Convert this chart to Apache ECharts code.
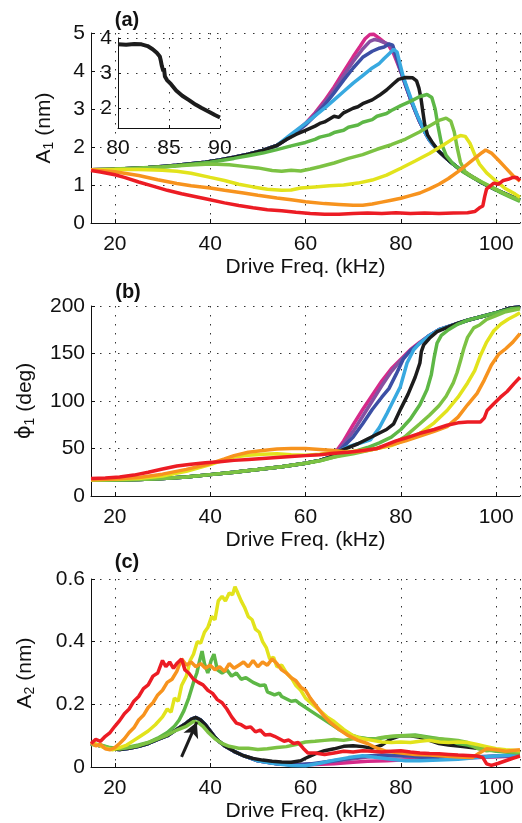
<!DOCTYPE html>
<html>
<head>
<meta charset="utf-8">
<script src="https://cdn.jsdelivr.net/npm/echarts@6/dist/echarts.min.js"></script>
<style>
html, body { margin: 0; padding: 0; background: #fff; }
#main { width: 522px; height: 823px; }
</style>
</head>
<body>
<div id="main"></div>
<script>
// ---------- panel (a): A1 (nm) vs drive frequency ----------
var a1Base = [[15,1.40],[18,1.41],[21,1.42],[24,1.44],[27,1.46],[30,1.49],[33,1.52],[36,1.56],[39,1.60],[42,1.66],[45,1.73],[48,1.81],[51,1.91],[54,2.04]];
var a1Tail = [[85,2.40],[86,2.18],[88,1.88],[90,1.65],[92,1.45],[94,1.29],[97,1.06],[100,0.87],[103,0.71],[105,0.61]];
var a1Magenta = a1Base.concat([[57,2.30],[60,2.62],[62,2.90],[64,3.22],[66,3.58],[68,3.98],[70,4.38],[71.5,4.66],[72.5,4.85],[73.5,4.96],[74.3,4.97],[75.3,4.88],[76.5,4.76],[77.5,4.66],[78.5,4.45],[79.3,4.20],[80,3.98],[81,3.62],[82,3.27],[83,2.95],[84,2.65]], a1Tail);
var a1Purple = a1Base.concat([[57,2.29],[60,2.60],[62,2.87],[64,3.17],[66,3.50],[68,3.88],[70,4.25],[72,4.58],[73.5,4.78],[74.5,4.83],[75.5,4.80],[76.5,4.75],[77.5,4.70],[78.3,4.60],[79,4.36],[80,3.99],[81,3.62],[82,3.27],[83,2.95],[84,2.65]], a1Tail);
var a1Blue = a1Base.concat([[57,2.28],[60,2.58],[62,2.83],[64,3.10],[66,3.42],[68,3.76],[70,4.08],[72,4.36],[74,4.52],[75.5,4.60],[76.5,4.63],[77.5,4.71],[78.3,4.68],[79,4.40],[80,4.00],[81,3.63],[82,3.27],[83,2.95],[84,2.65]], a1Tail);
var a1LightBlue = a1Base.concat([[57,2.34],[60,2.62],[62,2.82],[64,3.02],[66,3.24],[68,3.46],[70,3.68],[72,3.88],[74,4.08],[75.5,4.20],[76.5,4.33],[77.5,4.45],[78.5,4.57],[79.2,4.50],[79.8,4.20],[80.5,3.85],[81.5,3.50],[82.5,3.15],[83.5,2.82],[84.5,2.55]], a1Tail);
var a1Black = a1Base.concat([[56,2.20],[58,2.33],[60,2.44],[62,2.55],[63,2.62],[64,2.66],[66,2.81],[67,2.78],[68,2.90],[70,3.02],[71,3.06],[72,3.14],[74,3.24],[75.5,3.36],[77,3.50],[78.5,3.67],[79.5,3.78],[81,3.83],[82.5,3.82],[83.3,3.74],[83.8,3.55],[84.2,3.30],[84.6,2.95],[85,2.60],[85.6,2.32],[86.5,2.14],[88,1.88],[90,1.65],[92,1.45],[94,1.29],[97,1.06],[100,0.87],[103,0.71],[105,0.61]]);
var a1Green1 = [[15,1.40],[20,1.41],[25,1.43],[30,1.47],[35,1.53],[40,1.60],[45,1.70],[48,1.77],[51,1.84],[54,1.93],[57,2.03],[60,2.12],[62,2.20],[63,2.26],[65,2.32],[66,2.38],[68,2.44],[69,2.52],[71,2.58],[72,2.65],[74,2.72],[75,2.81],[77,2.88],[78,2.96],[80,3.09],[82,3.20],[84,3.33],[85.5,3.38],[86.5,3.30],[87.2,3.00],[87.8,2.55],[88.5,2.10],[89.5,1.78],[91,1.55],[93,1.35],[95,1.20],[98,1.00],[101,0.80],[103,0.68],[105,0.57]];
var a1Green2 = [[15,1.40],[20,1.42],[25,1.45],[30,1.48],[35,1.52],[40,1.55],[44,1.53],[47,1.49],[50,1.45],[53,1.38],[55,1.36],[57,1.39],[59,1.37],[61,1.42],[63,1.48],[66,1.58],[69,1.70],[72,1.80],[75,1.94],[78,2.06],[81,2.21],[84,2.40],[86,2.55],[88,2.70],[89.5,2.76],[90.5,2.68],[91.2,2.40],[91.8,2.00],[92.5,1.60],[93.5,1.35],[95,1.22],[97,1.08],[99,0.95],[101,0.82],[103,0.70],[105,0.60]];
var a1Yellow = [[15,1.40],[20,1.41],[25,1.41],[30,1.39],[33,1.36],[36,1.31],[40,1.20],[43,1.12],[46,1.02],[49,0.95],[52,0.89],[55,0.86],[57,0.87],[59,0.92],[62,0.95],[65,0.98],[68,1.00],[71,1.05],[74,1.13],[77,1.26],[80,1.44],[83,1.63],[86,1.83],[89,2.06],[91,2.22],[92.5,2.30],[93.5,2.28],[94.5,2.10],[95.5,1.80],[96.5,1.55],[98,1.32],[100,1.10],[102,0.90],[104,0.76],[105,0.68]];
var a1Orange = [[15,1.40],[20,1.35],[25,1.25],[29,1.14],[33,1.04],[36,0.98],[40,0.92],[43,0.86],[47,0.79],[50,0.73],[54,0.66],[57,0.61],[60,0.56],[64,0.51],[67,0.49],[70,0.47],[72,0.47],[74,0.50],[76,0.55],[78,0.60],[80,0.65],[82,0.72],[84,0.79],[86,0.90],[88,1.02],[90,1.17],[92,1.35],[94,1.55],[95.5,1.70],[97,1.85],[97.8,1.92],[99,1.84],[100.5,1.65],[102,1.45],[103.5,1.25],[105,1.10]];
var a1Red = [[15,1.38],[17,1.34],[20,1.27],[22,1.20],[25,1.08],[28,0.97],[31,0.86],[34,0.77],[37,0.69],[40,0.61],[43,0.53],[46,0.46],[49,0.40],[52,0.35],[55,0.32],[58,0.28],[61,0.25],[64,0.23],[67,0.23],[70,0.25],[73,0.26],[76,0.25],[79,0.27],[82,0.25],[85,0.26],[88,0.25],[91,0.26],[94,0.27],[95.5,0.30],[96.5,0.40],[97.2,0.45],[97.6,0.70],[98,0.90],[98.8,0.98],[99.5,1.05],[100.5,1.02],[101.5,1.12],[102.5,1.15],[103.5,1.20],[104.3,1.20],[105,1.12]];

// inset of panel (a)
var insetBlack = [[80,3.82],[80.8,3.81],[81.6,3.83],[82.3,3.82],[82.9,3.77],[83.4,3.68],[83.8,3.58],[84.1,3.47],[84.2,3.35],[84.3,3.20],[84.45,3.05],[84.5,3.14],[84.6,2.90],[84.8,2.80],[85.2,2.68],[85.7,2.50],[86.3,2.35],[87,2.22],[87.6,2.10],[88.2,2.00],[89,1.88],[89.5,1.80],[90,1.73]];

// ---------- panel (b): phase (deg) ----------
var b1Base = [[15,16.5],[20,16.8],[25,17.3],[30,18.3],[35,20.0],[40,22.5],[45,25.0],[50,27.8],[55,30.8],[60,34.5],[63,37.5],[65,40.5]];
var b1Tail = [[86,169],[88,175],[91,180],[94,185],[97,189],[100,193],[103,198],[105,199]];
var b1Magenta = b1Base.concat([[66,44],[68,58],[70,75],[72,91],[74,106],[76,121],[78,134],[80,144],[82,154],[84,162]], b1Tail);
var b1Purple = b1Base.concat([[66.5,46],[68,55],[70,68],[72,84],[74,100],[76,116],[78,131],[80,143],[82,153],[84,161]], b1Tail);
var b1Blue = b1Base.concat([[66.5,45],[68,52],[70,62],[72,76],[74,91],[76,104],[77.5,113],[79,128],[80.5,144],[82,153],[84,161]], b1Tail);
var b1LightBlue = b1Base.concat([[67,47],[69,52],[71,55],[73.6,59],[75.5,72],[77.1,87],[78.5,101],[79.9,115],[81.3,140],[82.7,154],[84,161]], b1Tail);
var b1Black = b1Base.concat([[67,47],[69,51],[71,55],[73,60],[75,65],[77,70],[78.5,76],[80,92],[81.5,107],[83,125],[84,140],[84.3,152],[84.8,159],[86,166],[87.6,173],[90,178],[92,182],[94,185],[97,189],[100,193],[103,198],[105,199]]);
var b1Green1 = [[15,16.5],[20,16.8],[25,17.3],[30,18.3],[35,20.0],[40,22.5],[45,25.0],[50,27.8],[55,30.8],[60,34.5],[63,37],[66,41],[70,46.5],[73,51],[75.5,56],[78,62],[80,70],[82,81],[84,96],[85.5,112],[86.4,128],[87,146],[87.6,161],[88.5,169],[90,175],[92,181],[94,185],[97,189],[100,193],[103,197],[105,198]];
var b1Green2 = [[15,16.5],[20,16.8],[25,17.3],[30,18.3],[35,20.0],[40,22.5],[45,25.0],[50,27.8],[55,30.8],[60,34.5],[63,37],[66,41],[70,44.5],[74,49],[78.5,55],[81,63],[84,76],[86,85],[88,95],[89.5,105],[91,119],[91.8,130],[92.5,142],[93.2,155],[94,167],[95.3,177],[96.5,180],[98,186],[100,190],[102,194],[105,197]];
var b1Yellow = [[15,17],[20,17.5],[25,18.5],[30,21],[35,26],[40,33],[43,38],[45,41],[48,43],[51,44],[54,44.5],[57,43.5],[60,43],[63,44],[66,46],[70,47],[74,49],[78,53],[81,59],[84,66],[87,77],[89.7,90],[92,104],[94,119],[95.5,132],[96.7,148],[98,162],[99.5,174],[101,181],[102.5,186],[104,190],[105,193]];
var b1Orange = [[15,17],[20,18],[25,19.5],[30,23],[35,28],[40,34],[43,39],[45,42.5],[48,46],[51,48],[54,49.5],[57,50],[60,50],[63,49],[66,48],[69,46],[72,47],[75,50],[78,54],[81,58],[84,63],[87,68],[89.7,73],[92,83],[94,96],[96,108],[97.5,122],[99,138],[100.5,149],[102,155],[103.5,162],[105,171]];
var b1Red = [[15,18.5],[18,19],[21,20],[24,22],[27,25],[30,28.5],[33,31.5],[36,33.5],[39,35],[42,36],[45,37.5],[48,38.5],[51,39.5],[54,40.5],[57,41.5],[60,42.5],[63,43.5],[66,45],[69,46],[72,48],[75,50],[77,54],[79,58],[81,61],[84,66],[87,70],[89.7,74.5],[92,77],[94,78],[96.7,78],[97.5,82],[98.1,90],[99.5,97],[100.9,104],[102.3,110],[103.7,118],[105,125]];

// ---------- panel (c): A2 (nm) ----------
var c1Base = [[15,0.074],[17,0.068],[19,0.058],[21,0.056],[23,0.060],[25,0.066],[27,0.075],[29,0.088],[31,0.100],[33,0.120],[35,0.140],[36,0.152],[37,0.158],[38,0.150],[39,0.135],[40,0.115],[41,0.095],[42,0.080],[43,0.068],[45,0.050],[47,0.036]];
var c1Magenta = c1Base.concat([[50,0.020],[54,0.010],[58,0.006],[62,0.008],[66,0.010],[70,0.015],[73,0.018],[77,0.020],[80,0.022],[84,0.024],[90,0.026],[96,0.030],[105,0.035]]);
var c1Purple = c1Base.concat([[50,0.020],[54,0.010],[58,0.006],[62,0.010],[66,0.018],[70,0.026],[73,0.032],[76,0.036],[80,0.035],[84,0.030],[90,0.030],[96,0.032],[105,0.036]]);
var c1Blue = c1Base.concat([[50,0.020],[54,0.010],[58,0.007],[61,0.010],[64,0.016],[67,0.022],[70,0.030],[73,0.035],[76,0.038],[79,0.037],[82,0.036],[85,0.030],[90,0.030],[96,0.033],[105,0.038]]);
var c1LightBlue = c1Base.concat([[50,0.020],[53,0.012],[57,0.005],[60,0.004],[63,0.012],[66,0.022],[69,0.030],[72,0.036],[75,0.030],[78,0.025],[81,0.020],[84,0.020],[88,0.022],[92,0.025],[96,0.030],[100,0.035],[105,0.040]]);
var c1Black = c1Base.concat([[49,0.027],[51,0.022],[53,0.018],[55,0.016],[57,0.015],[59,0.020],[60,0.028],[62,0.042],[64,0.052],[66,0.058],[68,0.066],[70,0.068],[72,0.065],[74,0.060],[76,0.070],[78,0.090],[80,0.100],[82,0.100],[84,0.095],[86,0.085],[88,0.075],[90,0.070],[93,0.065],[96,0.060],[99,0.055],[102,0.050],[105,0.048]]);
var c1Green1 = [[15,0.074],[17,0.070],[19,0.062],[21,0.058],[23,0.064],[25,0.070],[27,0.078],[29,0.092],[31,0.110],[32.5,0.130],[33.5,0.150],[34.5,0.180],[35.5,0.220],[36.5,0.270],[37.2,0.300],[37.8,0.340],[38.3,0.370],[38.8,0.330],[39.5,0.300],[40.2,0.340],[40.8,0.360],[41.5,0.310],[42.5,0.300],[43.5,0.310],[44.5,0.290],[45.5,0.300],[46.5,0.280],[47.5,0.285],[49,0.270],[50.5,0.260],[51.5,0.262],[52,0.240],[53.5,0.230],[54.5,0.236],[55,0.225],[57,0.210],[58,0.212],[59,0.200],[61,0.180],[63,0.160],[65,0.140],[67,0.120],[69,0.105],[71,0.095],[73,0.090],[75,0.090],[77,0.095],[80,0.100],[83,0.102],[86,0.095],[88,0.090],[90,0.085],[92,0.075],[94,0.070],[96,0.062],[98,0.055],[100,0.050],[102,0.048],[105,0.045]];
var c1Green2 = [[15,0.072],[17,0.070],[19,0.060],[21,0.058],[23,0.062],[25,0.068],[27,0.078],[29,0.090],[31,0.102],[33,0.118],[35,0.130],[36.5,0.145],[37.5,0.142],[38.5,0.130],[39.5,0.112],[41,0.090],[42.5,0.075],[44,0.066],[46,0.060],[48,0.060],[50,0.056],[52,0.058],[54,0.062],[56,0.065],[58,0.072],[60,0.080],[62,0.082],[64,0.085],[66,0.088],[68,0.085],[70,0.090],[72,0.092],[74,0.088],[76,0.094],[78,0.098],[80,0.100],[82,0.100],[84,0.098],[86,0.092],[88,0.090],[90,0.088],[92,0.085],[94,0.078],[96,0.060],[98,0.052],[100,0.055],[102,0.050],[104,0.048],[105,0.045]];
var c1Yellow = [[15,0.080],[16.5,0.070],[18,0.060],[19.5,0.055],[21,0.062],[22.5,0.070],[24,0.085],[25.5,0.100],[27,0.115],[28.5,0.135],[30,0.160],[31,0.185],[31.8,0.175],[32.5,0.220],[33.3,0.210],[34,0.260],[35,0.290],[35.8,0.340],[36.5,0.360],[37.3,0.400],[38,0.395],[38.8,0.430],[39.5,0.445],[40.3,0.480],[41,0.470],[41.7,0.530],[42.5,0.545],[43.2,0.530],[44,0.555],[44.7,0.550],[45.2,0.575],[45.8,0.555],[46.5,0.530],[47.2,0.510],[48,0.480],[48.8,0.470],[49.5,0.440],[50.3,0.430],[51,0.400],[51.8,0.380],[52.5,0.345],[53.3,0.350],[54,0.320],[55,0.325],[56,0.300],[57,0.285],[58,0.260],[59,0.245],[60,0.220],[61.5,0.200],[63,0.180],[64.5,0.160],[66,0.145],[68,0.120],[70,0.100],[72,0.090],[74,0.085],[76,0.080],[78,0.078],[80,0.080],[82,0.078],[84,0.082],[86,0.085],[88,0.080],[90,0.078],[92,0.080],[94,0.078],[96,0.072],[98,0.065],[100,0.058],[102,0.055],[105,0.052]];
var c1Orange = [[15,0.078],[16,0.068],[17,0.072],[18,0.058],[19,0.055],[20,0.062],[21,0.075],[22,0.090],[23,0.110],[24,0.125],[25,0.150],[26,0.165],[27,0.190],[28,0.205],[29,0.230],[30,0.245],[31,0.270],[32,0.280],[33,0.305],[34,0.345],[35,0.325],[36,0.335],[37,0.320],[38,0.330],[39,0.315],[40,0.325],[41,0.310],[42,0.320],[43,0.305],[44,0.330],[45,0.315],[46,0.325],[47,0.335],[48,0.320],[49,0.340],[50,0.320],[51,0.335],[52,0.325],[53,0.345],[54,0.330],[55,0.310],[56,0.300],[57,0.285],[58,0.275],[59,0.255],[60,0.245],[61,0.220],[62,0.200],[63,0.180],[64,0.160],[65,0.145],[67,0.120],[69,0.100],[71,0.085],[73,0.075],[75,0.060],[77,0.050],[80,0.045],[83,0.040],[86,0.038],[89,0.035],[92,0.032],[95,0.030],[96.5,0.045],[98,0.058],[100,0.055],[102,0.050],[105,0.055]];
var c1Red = [[15,0.075],[16,0.088],[17,0.082],[18,0.098],[19,0.110],[20,0.130],[21,0.148],[22,0.170],[23,0.185],[24,0.210],[25,0.225],[26,0.250],[27,0.262],[28,0.290],[29,0.300],[30,0.340],[30.7,0.320],[31.5,0.335],[32.3,0.315],[33,0.330],[34,0.345],[34.7,0.310],[35.5,0.300],[36.5,0.280],[37.5,0.270],[38.5,0.262],[39.5,0.245],[40.5,0.235],[41.5,0.215],[42.5,0.205],[43.5,0.185],[44.5,0.160],[45.5,0.140],[46.5,0.135],[47.5,0.125],[48.5,0.128],[49.5,0.112],[50.5,0.118],[51.5,0.102],[52.5,0.104],[53.5,0.098],[54.5,0.090],[55.5,0.082],[56.5,0.086],[57.5,0.075],[58.5,0.078],[59.5,0.060],[60.5,0.045],[62,0.045],[64,0.040],[66,0.045],[68,0.050],[70,0.048],[72,0.052],[74,0.050],[76,0.048],[78,0.050],[80,0.052],[82,0.048],[84,0.045],[86,0.043],[88,0.042],[90,0.040],[92,0.038],[94,0.037],[96,0.035],[97.2,0.030],[98,0.010],[99,0.005],[100.5,0.012],[102,0.020],[103.5,0.028],[105,0.035]];

// arrow in panel (c), from tail to head (data coords)
var arrowTail = [34.0, 0.032];
var arrowHead = [37.2, 0.143];

var FONT = 'Liberation Sans, Arial, Helvetica, sans-serif';
var C = {
    magenta: '#d62a8a', purple: '#8650a2', blue: '#3c4fa5', lightBlue: '#38a9e0',
    black: '#1c1c1c', green1: '#5db746', green2: '#7cc243', yellow: '#e2e31c',
    orange: '#f7931e', red: '#ec1c24'
};

var dotted = { color: '#333', width: 1, type: [1.5, 7.5] };

function freqAxis(gi) {
    return {
        type: 'value', gridIndex: gi, min: 15, max: 105, splitNumber: 5,
        name: 'Drive Freq. (kHz)', nameLocation: 'middle', nameGap: 34,
        nameTextStyle: { fontSize: 21, color: '#111', fontFamily: FONT },
        axisLine: { lineStyle: { color: '#111', width: 1 } },
        axisTick: { inside: true, length: 4, lineStyle: { color: '#111' } },
        axisLabel: { fontSize: 21, color: '#111', margin: 11, fontFamily: FONT, showMinLabel: false, showMaxLabel: false },
        splitLine: { show: true, lineStyle: dotted }
    };
}

function valAxis(gi, min, max, interval, name, gap) {
    return {
        type: 'value', gridIndex: gi, min: min, max: max, interval: interval,
        name: name, nameLocation: 'middle', nameGap: gap,
        nameTextStyle: {
            color: '#111', fontFamily: FONT,
            rich: {
                t: { fontSize: 21, lineHeight: 24, fontFamily: FONT, color: '#111' },
                s: { fontSize: 14, lineHeight: 12, verticalAlign: 'bottom', fontFamily: FONT, color: '#111' },
                p: { fontSize: 21, lineHeight: 24, fontFamily: 'DejaVu Sans, ' + FONT, color: '#111' }
            }
        },
        axisLine: { show: true, lineStyle: { color: '#111', width: 1 } },
        axisTick: { show: true, inside: true, length: 4, lineStyle: { color: '#111' } },
        axisLabel: { fontSize: 21, color: '#111', margin: 6, fontFamily: FONT },
        splitLine: { show: true, lineStyle: dotted }
    };
}

function line(name, data, color, gi) {
    return {
        name: name, type: 'line', data: data, xAxisIndex: gi, yAxisIndex: gi,
        showSymbol: false, symbol: 'none', silent: true, animation: false,
        lineStyle: { color: color, width: 3.5 }, itemStyle: { color: color }
    };
}

var panels = [
    [a1Magenta, a1Purple, a1Blue, a1LightBlue, a1Black, a1Green1, a1Green2, a1Yellow, a1Orange, a1Red],
    [b1Magenta, b1Purple, b1Blue, b1LightBlue, b1Black, b1Green1, b1Green2, b1Yellow, b1Orange, b1Red],
    [c1Magenta, c1Purple, c1Blue, c1LightBlue, c1Black, c1Green1, c1Green2, c1Yellow, c1Orange, c1Red]
];
var keys = ['magenta', 'purple', 'blue', 'lightBlue', 'black', 'green1', 'green2', 'yellow', 'orange', 'red'];

var series = [];
panels.forEach(function (list, gi) {
    list.forEach(function (d, k) {
        series.push(line(keys[k] + gi, d, C[keys[k]], gi));
    });
});

// arrow on panel (c)
series[24].markLine = {
    silent: true, animation: false, symbol: ['none', 'arrow'], symbolSize: [12, 15],
    label: { show: false },
    lineStyle: { color: '#1c1c1c', width: 3, type: 'solid' },
    data: [[{ coord: arrowTail }, { coord: arrowHead }]]
};

// inset
var inset = line('inset', insetBlack, C.black, 3);
inset.lineStyle.width = 4;
inset.z = 5;
series.push(inset);

var chart = echarts.init(document.getElementById('main'));
chart.setOption({
    backgroundColor: '#fff',
    animation: false,
    grid: [
        { left: 91, top: 33, width: 429, height: 190 },
        { left: 91, top: 306, width: 429, height: 190 },
        { left: 91, top: 579, width: 429, height: 189 },
        { left: 118, top: 38, width: 102, height: 90, show: true, backgroundColor: '#fff', borderWidth: 0, z: 3 }
    ],
    xAxis: [
        freqAxis(0), freqAxis(1), freqAxis(2),
        {
            type: 'value', gridIndex: 3, min: 80, max: 90, interval: 5, z: 4,
            axisLine: { lineStyle: { color: '#111', width: 1 } },
            axisTick: { inside: true, length: 3, lineStyle: { color: '#111' } },
            axisLabel: { fontSize: 21, color: '#111', margin: 10, fontFamily: FONT },
            splitLine: { show: true, lineStyle: dotted }
        }
    ],
    yAxis: [
        valAxis(0, 0, 5, 1, '{t|A}{s|1}{t| (nm)}', 35),
        valAxis(1, 0, 200, 50, '{p|\u03d5}{s|1}{t| (deg)}', 54),
        valAxis(2, 0, 0.6, 0.2, '{t|A}{s|2}{t| (nm)}', 54),
        {
            type: 'value', gridIndex: 3, min: 1.43, max: 4, splitNumber: 3, z: 4,
            axisLine: { show: true, lineStyle: { color: '#111', width: 1 } },
            axisTick: { show: true, inside: true, length: 3, lineStyle: { color: '#111' } },
            axisLabel: { fontSize: 21, color: '#111', margin: 6, fontFamily: FONT, showMinLabel: false },
            splitLine: { show: true, lineStyle: dotted }
        }
    ],
    graphic: [
        { type: 'text', x: 127, y: 20, style: { text: '(a)', font: 'bold 20px ' + FONT, fill: '#111', align: 'center', verticalAlign: 'middle' } },
        { type: 'text', x: 128, y: 292, style: { text: '(b)', font: 'bold 20px ' + FONT, fill: '#111', align: 'center', verticalAlign: 'middle' } },
        { type: 'text', x: 127, y: 562, style: { text: '(c)', font: 'bold 20px ' + FONT, fill: '#111', align: 'center', verticalAlign: 'middle' } }
    ],
    series: series
});
</script>
</body>
</html>
